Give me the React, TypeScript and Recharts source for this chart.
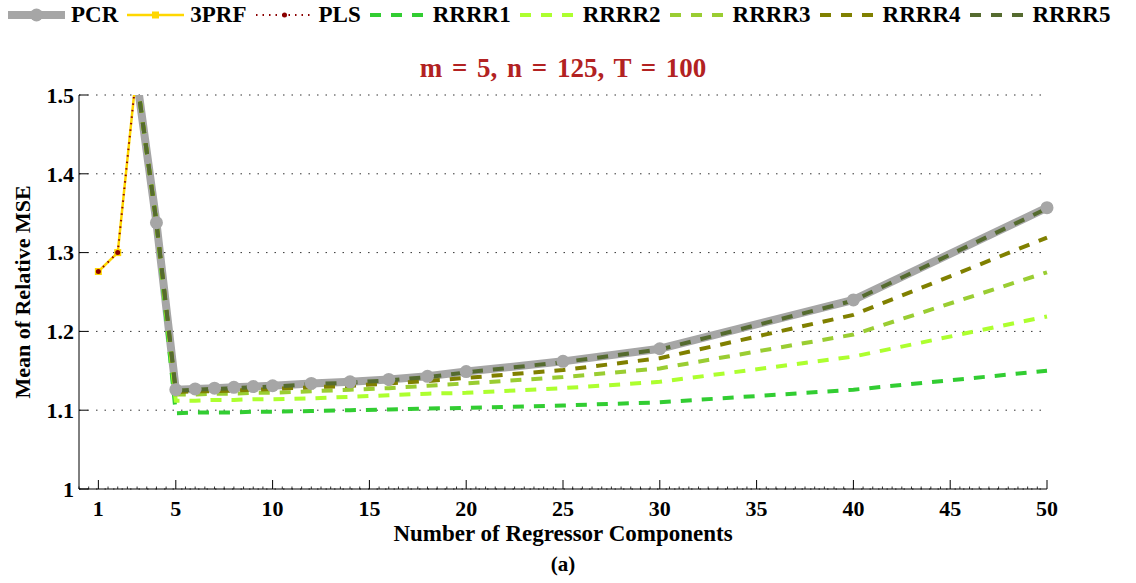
import React from "react";
import { LineChart, Line, XAxis, YAxis, CartesianGrid, Legend, Label } from "recharts";

// components on the x axis
const components = [1, 2, 3, 4, 5, 6, 7, 8, 9, 10, 12, 14, 16, 18, 20, 25, 30, 40, 50];

// mean of relative MSE per method (null = not shown)
const pcr = [null, null, 1.518, 1.338, 1.126, 1.127, 1.128, 1.129, 1.13, 1.131, 1.134, 1.136, 1.139, 1.143, 1.149, 1.162, 1.178, 1.24, 1.357];
const prf3 = [1.276, 1.3, 1.537, null, null, null, null, null, null, null, null, null, null, null, null, null, null, null, null];
const pls = [1.276, 1.3, 1.537, null, null, null, null, null, null, null, null, null, null, null, null, null, null, null, null];
const rrrr1 = [null, null, 1.518, 1.338, 1.096, 1.097, 1.097, 1.097, 1.098, 1.098, 1.099, 1.1, 1.101, 1.102, 1.103, 1.106, 1.11, 1.126, 1.15];
const rrrr2 = [null, null, 1.518, 1.338, 1.112, 1.112, 1.113, 1.113, 1.114, 1.114, 1.115, 1.117, 1.119, 1.121, 1.122, 1.128, 1.136, 1.168, 1.219];
const rrrr3 = [null, null, 1.518, 1.338, 1.12, 1.12, 1.121, 1.121, 1.122, 1.122, 1.124, 1.126, 1.128, 1.131, 1.134, 1.142, 1.153, 1.196, 1.275];
const rrrr4 = [null, null, 1.518, 1.338, 1.123, 1.124, 1.124, 1.125, 1.126, 1.127, 1.129, 1.131, 1.134, 1.137, 1.141, 1.151, 1.166, 1.221, 1.319];
const rrrr5 = [null, null, 1.518, 1.338, 1.125, 1.126, 1.127, 1.128, 1.129, 1.13, 1.133, 1.135, 1.138, 1.142, 1.148, 1.161, 1.177, 1.239, 1.356];

const majorXTicks = [1, 5, 10, 15, 20, 25, 30, 35, 40, 45, 50];
const yTicks = [1, 1.1, 1.2, 1.3, 1.4, 1.5];

const data = components.map((x, i) => ({
  x,
  pcr: pcr[i],
  prf3: prf3[i],
  pls: pls[i],
  rrrr1: rrrr1[i],
  rrrr2: rrrr2[i],
  rrrr3: rrrr3[i],
  rrrr4: rrrr4[i],
  rrrr5: rrrr5[i],
}));

// minor ticks every half unit along the x axis
const allXTicks = Array.from({ length: 101 }, (_, i) => i * 0.5);

const FONT = '"Liberation Serif", "Times New Roman", serif';

type Series = {
  key: string;
  name: string;
  color: string;
  width: number;
  dash?: string;
  marker?: "circle" | "square" | "dot";
};

const series: Series[] = [
  { key: "pcr", name: "PCR", color: "#a6a6a6", width: 8, marker: "circle" },
  { key: "prf3", name: "3PRF", color: "#ffd700", width: 2.5, marker: "square" },
  { key: "pls", name: "PLS", color: "#8b0000", width: 2, dash: "1.5 5", marker: "dot" },
  { key: "rrrr1", name: "RRRR1", color: "#32cd32", width: 4, dash: "11 10" },
  { key: "rrrr2", name: "RRRR2", color: "#adff2f", width: 4, dash: "11 10" },
  { key: "rrrr3", name: "RRRR3", color: "#9acd32", width: 4, dash: "11 10" },
  { key: "rrrr4", name: "RRRR4", color: "#808000", width: 4, dash: "11 10" },
  { key: "rrrr5", name: "RRRR5", color: "#556b2f", width: 4, dash: "11 10" },
];

function Marker({ s, cx, cy }: { s: Series; cx: number; cy: number }) {
  if (s.marker === "circle") return <circle cx={cx} cy={cy} r={6.5} fill={s.color} />;
  if (s.marker === "square") return <rect x={cx - 3.5} y={cy - 3.5} width={7} height={7} fill={s.color} />;
  if (s.marker === "dot") return <circle cx={cx} cy={cy} r={2.5} fill={s.color} />;
  return null;
}

function renderDot(s: Series) {
  if (!s.marker) return false;
  return (p: any) => {
    if (p.cx == null || p.cy == null || p.value == null) return <g key={p.index} />;
    return (
      <g key={p.index}>
        <Marker s={s} cx={p.cx} cy={p.cy} />
      </g>
    );
  };
}

function LegendContent() {
  return (
    <div style={{ display: "flex", alignItems: "center", gap: 9, paddingLeft: 8, fontFamily: FONT }}>
      {series.map((s) => (
        <div key={s.key} style={{ display: "flex", alignItems: "center" }}>
          <svg width={57} height={26}>
            <line x1={0} x2={57} y1={13} y2={13} stroke={s.color} strokeWidth={s.width} strokeDasharray={s.dash} />
            <Marker s={s} cx={28.5} cy={13} />
          </svg>
          <span style={{ marginLeft: 6, fontSize: 23, fontWeight: "bold", color: "#000", lineHeight: "26px" }}>{s.name}</span>
        </div>
      ))}
    </div>
  );
}

function XTick(props: any) {
  const { x, y, payload } = props;
  const v = payload.value;
  const major = majorXTicks.includes(v);
  return (
    <g>
      <line x1={x} x2={x} y1={y} y2={y - (major ? 9 : 2.5)} stroke="#000" strokeWidth={major ? 1 : 0.8} />
      {major && (
        <text x={x} y={y + 27} textAnchor="middle" fontSize={22} fontWeight="bold" fontFamily={FONT} fill="#000">
          {v}
        </text>
      )}
    </g>
  );
}

function YTick(props: any) {
  const { x, y, payload } = props;
  const v = payload.value;
  return (
    <g>
      <line x1={x} x2={x + 9} y1={y} y2={y} stroke="#000" />
      <text x={x - 5} y={y} dy="0.35em" textAnchor="end" fontSize={22} fontWeight="bold" fontFamily={FONT} fill="#000">
        {v === 1 ? "1" : v.toFixed(1)}
      </text>
    </g>
  );
}

function XAxisTitle(props: any) {
  const { x, y, width } = props.viewBox;
  const cx = x + width / 2;
  return (
    <g fontFamily={FONT} fontWeight="bold" fill="#000" textAnchor="middle">
      <text x={cx} y={y + 52} fontSize={23}>
        Number of Regressor Components
      </text>
      <text x={cx} y={y + 82} fontSize={21}>
        (a)
      </text>
    </g>
  );
}

function YAxisTitle(props: any) {
  const { x, y, height } = props.viewBox;
  const cx = x + 22;
  const cy = y + height / 2;
  return (
    <text
      x={cx}
      y={cy}
      transform={`rotate(-90, ${cx}, ${cy})`}
      textAnchor="middle"
      dominantBaseline="central"
      fontFamily={FONT}
      fontWeight="bold"
      fontSize={22}
      fill="#000"
    >
      Mean of Relative MSE
    </text>
  );
}

export default function App() {
  return (
    <div style={{ position: "absolute", left: 0, top: 0, width: 1136, height: 583, background: "#fff" }}>
      <div
        style={{
          position: "absolute",
          left: 79,
          width: 968,
          top: 51,
          textAlign: "center",
          fontFamily: FONT,
          fontWeight: "bold",
          fontSize: 27,
          lineHeight: "34px",
          color: "#b22222",
          wordSpacing: 3,
        }}
      >
        m = 5, n = 125, T = 100
      </div>
      <LineChart width={1136} height={583} data={data} margin={{ top: 95, right: 89, left: 0, bottom: 0 }}>
        <CartesianGrid vertical={false} stroke="#333" strokeDasharray="1.5 7" />
        <XAxis
          type="number"
          dataKey="x"
          domain={[0, 50]}
          ticks={allXTicks}
          interval={0}
          tickLine={false}
          tickSize={0}
          tickMargin={0}
          tick={<XTick />}
          height={94}
          axisLine={{ stroke: "#000" }}
        >
          <Label content={<XAxisTitle />} />
        </XAxis>
        <YAxis
          type="number"
          domain={[1, 1.5]}
          allowDataOverflow
          ticks={yTicks}
          interval={0}
          tickLine={false}
          tickSize={0}
          tickMargin={0}
          tick={<YTick />}
          width={79}
          axisLine={{ stroke: "#000" }}
        >
          <Label content={<YAxisTitle />} />
        </YAxis>
        <Legend
          verticalAlign="middle"
          align="center"
          layout="horizontal"
          wrapperStyle={{ top: 2, left: 0, width: 1136 }}
          content={<LegendContent />}
        />
        {series.map((s) => (
          <Line
            key={s.key}
            dataKey={s.key}
            name={s.name}
            type="linear"
            stroke={s.color}
            strokeWidth={s.width}
            strokeDasharray={s.dash}
            dot={renderDot(s)}
            activeDot={false}
            isAnimationActive={false}
          />
        ))}
      </LineChart>
    </div>
  );
}
